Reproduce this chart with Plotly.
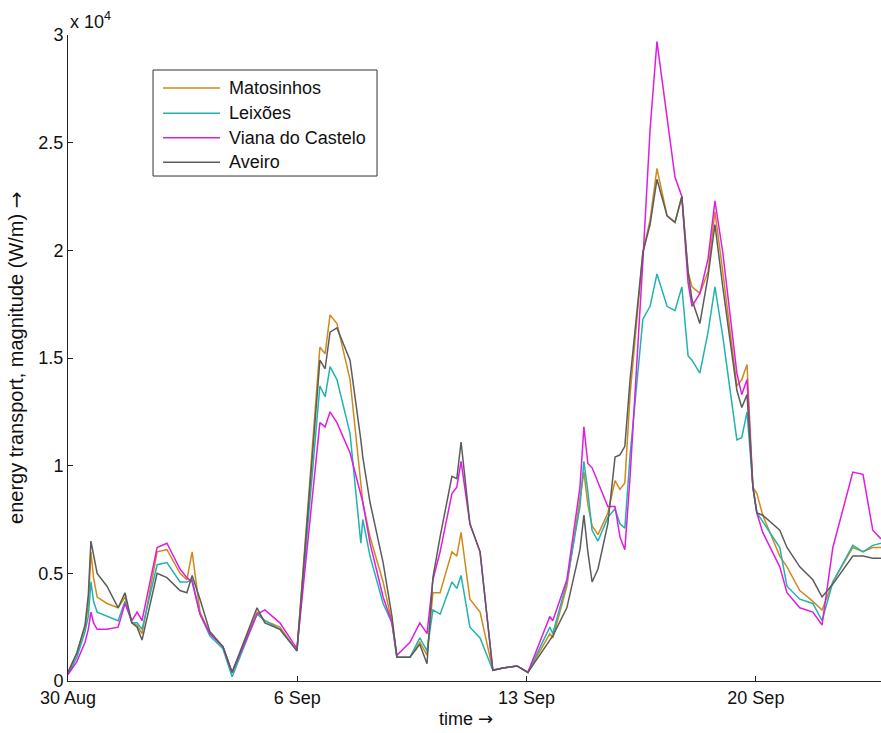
import plotly.graph_objects as go

# Time axis: days since 30 Aug 00:00
days = [
    0.00, 0.27, 0.52, 0.62, 0.70, 0.78, 0.89, 1.19, 1.53, 1.74,
    1.95, 2.11, 2.26, 2.72, 3.02, 3.42, 3.63, 3.79, 4.03, 4.33,
    4.73, 5.01, 5.77, 6.01, 6.47, 6.99, 7.69, 7.85, 8.00, 8.21,
    8.61, 8.94, 9.00, 9.22, 9.62, 9.89, 10.04, 10.44, 10.74, 10.96,
    11.14, 11.36, 11.72, 11.87, 12.00, 12.27, 12.58, 12.97, 13.28, 13.71,
    14.04, 14.71, 14.80, 15.23, 15.63, 15.75, 15.87, 16.00, 16.18, 16.48,
    16.70, 16.85, 17.00, 17.16, 17.55, 17.77, 17.98, 18.29, 18.53, 18.74,
    18.93, 19.05, 19.29, 19.54, 19.75, 19.99, 20.42, 20.57, 20.73, 20.91,
    21.03, 21.21, 21.73, 21.95, 22.34, 22.74, 23.02, 23.35, 23.96, 24.27,
    24.57, 24.82,
]

# Wave energy transport magnitude (W/m)
matosinhos = [
    400, 1300, 2500, 3500, 6000, 4800, 3900, 3600, 3400, 3900,
    2700, 2600, 2200, 6000, 6100, 5000, 4700, 6000, 3200, 2200,
    1600, 400, 3200, 2800, 2500, 1400, 15500, 15200, 17000, 16600,
    14000, 9200, 8300, 6700, 4600, 2700, 1100, 1100, 1800, 1200,
    4100, 4100, 6000, 5800, 6900, 3800, 3200, 500, 600, 700,
    400, 2200, 2000, 4400, 8400, 9700, 8200, 7200, 6800, 7800,
    9300, 8900, 9200, 13300, 19900, 21400, 23800, 21600, 21300, 22500,
    19000, 18300, 18000, 19000, 21800, 19000, 13700, 14000, 14700, 9000,
    8700, 7700, 5800, 5300, 4200, 3700, 3300, 4600, 6200, 6000,
    6200, 6200,
]

leixoes = [
    300, 1100, 2300, 3000, 4600, 3700, 3200, 3000, 2800, 3700,
    2700, 2700, 2400, 5400, 5500, 4600, 4600, 4700, 3100, 2100,
    1500, 200, 3100, 2800, 2400, 1400, 13700, 13200, 14600, 14000,
    11500, 6400, 7500, 5800, 3600, 2700, 1100, 1100, 2000, 1400,
    3300, 3100, 4600, 4300, 4900, 2500, 2000, 500, 600, 700,
    400, 2500, 2200, 4600, 8100, 10200, 8800, 7000, 6500, 7600,
    8000, 7300, 7100, 10500, 16800, 17400, 18900, 17400, 17200, 18300,
    15100, 14900, 14300, 16200, 18300, 16000, 11200, 11300, 12500, 9000,
    7800, 7400, 6200, 4400, 3800, 3600, 2800, 4600, 6300, 6000,
    6300, 6400,
]

viana = [
    300, 900, 1800, 2400, 3200, 2700, 2400, 2400, 2500, 3600,
    2800, 3200, 2800, 6200, 6400, 5200, 4800, 4600, 3100, 2200,
    1600, 400, 3100, 3300, 2700, 1500, 12000, 11800, 12500, 12000,
    10600, 8700, 8300, 6400, 3900, 2700, 1200, 1800, 2700, 2200,
    4700, 6000, 8700, 9000, 10200, 7300, 6000, 500, 600, 700,
    400, 3000, 2800, 4700, 9000, 11800, 10100, 9900, 9200, 8100,
    8100, 6700, 6100, 9500, 19500, 25600, 29700, 26100, 23400, 22500,
    18500, 17400, 18000, 19600, 22300, 19900, 14300, 13300, 14000, 9000,
    7800, 6900, 5300, 4100, 3400, 3200, 2600, 6200, 9700, 9600,
    7000, 6600,
]

aveiro = [
    400, 1300, 2600, 4000, 6500, 5800, 5000, 4400, 3400, 4100,
    2700, 2500, 1900, 5000, 4800, 4200, 4100, 4900, 3800, 2300,
    1600, 400, 3400, 2700, 2400, 1400, 14900, 14500, 16200, 16400,
    14900, 11200, 10400, 8300, 5500, 3000, 1100, 1100, 1700, 800,
    4800, 6700, 9500, 9400, 11100, 7300, 6000, 500, 600, 700,
    400, 1900, 2100, 3400, 6100, 7700, 6000, 4600, 5200, 7300,
    10400, 10500, 10900, 14000, 19900, 21200, 23300, 21600, 21300, 22500,
    19000, 17700, 16600, 18800, 21200, 18300, 13500, 12700, 13300, 9000,
    7800, 7700, 7000, 6200, 5300, 4700, 3900, 4500, 5800, 5800,
    5700, 5700,
]

series_names = ["Matosinhos", "Leixões", "Viana do Castelo", "Aveiro"]
series_values = [matosinhos, leixoes, viana, aveiro]
series_colors = ["#D08A1C", "#22B2B0", "#E01CE0", "#5C5C5C"]

x_tick_vals = [0, 7, 14, 21]
x_tick_text = ["30 Aug", "6 Sep", "13 Sep", "20 Sep"]
y_tick_vals = [0, 5000, 10000, 15000, 20000, 25000, 30000]
y_tick_text = ["0", "0.5", "1", "1.5", "2", "2.5", "3"]

FONT = "Liberation Sans, Arial, Helvetica, sans-serif"
ARROW = "<span style='font-family:DejaVu Sans'>→</span>"
TXT = "#111"

fig = go.Figure()
for name, vals, col in zip(series_names, series_values, series_colors):
    fig.add_trace(go.Scatter(
        x=days, y=vals, mode="lines", name=name, showlegend=False,
        line=dict(color=col, width=1.5),
    ))

# Boxed key in the upper-left corner of the axes (paper coordinates)
key_left, key_right, key_bottom, key_top = 0.1046, 0.3801, 0.7817, 0.9458
key_rows = [0.9180, 0.8790, 0.8410, 0.8030]
key_line_x = (0.1169, 0.1870)
key_text_x = 0.1956

shapes = [dict(type="rect", xref="paper", yref="paper",
               x0=key_left, x1=key_right, y0=key_bottom, y1=key_top,
               line=dict(color="#333", width=1), fillcolor="white", layer="above")]
annotations = []
for name, col, yk in zip(series_names, series_colors, key_rows):
    shapes.append(dict(type="line", xref="paper", yref="paper",
                       x0=key_line_x[0], x1=key_line_x[1], y0=yk, y1=yk,
                       line=dict(color=col, width=1.5), layer="above"))
    annotations.append(dict(text=name, xref="paper", yref="paper",
                            x=key_text_x, y=yk, xanchor="left", yanchor="middle",
                            showarrow=False,
                            font=dict(family=FONT, size=18, color=TXT)))

annotations += [
    dict(text="time " + ARROW, xref="paper", yref="paper",
         x=0.49, y=-0.0573, xanchor="center", yanchor="middle",
         showarrow=False, font=dict(family=FONT, size=18, color=TXT)),
    dict(text="energy transport, magnitude (W/m) " + ARROW,
         xref="paper", yref="paper",
         x=-0.064, y=0.5, xanchor="center", yanchor="middle", textangle=-90,
         showarrow=False, font=dict(family=FONT, size=20, color=TXT)),
    dict(text="x 10<sup>4</sup>", xref="paper", yref="paper",
         x=0.0, y=1.022, xanchor="left", yanchor="middle",
         showarrow=False, font=dict(family=FONT, size=18, color=TXT)),
]

fig.update_layout(
    width=881, height=733,
    margin=dict(l=68, r=0, t=35, b=52),
    paper_bgcolor="white", plot_bgcolor="white",
    font=dict(family=FONT, size=18, color=TXT),
    showlegend=False,
    xaxis=dict(
        range=[0, 24.82], showgrid=False, zeroline=False,
        showline=True, linecolor="#222", linewidth=1,
        ticks="inside", ticklen=5, tickcolor="#222",
        tickvals=x_tick_vals, ticktext=x_tick_text,
        tickfont=dict(family=FONT, size=18, color=TXT),
    ),
    yaxis=dict(
        range=[0, 30000], showgrid=False, zeroline=False,
        showline=True, linecolor="#222", linewidth=1,
        ticks="inside", ticklen=5, tickcolor="#222",
        tickvals=y_tick_vals, ticktext=y_tick_text,
        tickfont=dict(family=FONT, size=18, color=TXT),
    ),
    shapes=shapes,
    annotations=annotations,
)

fig.write_html("out.html")
